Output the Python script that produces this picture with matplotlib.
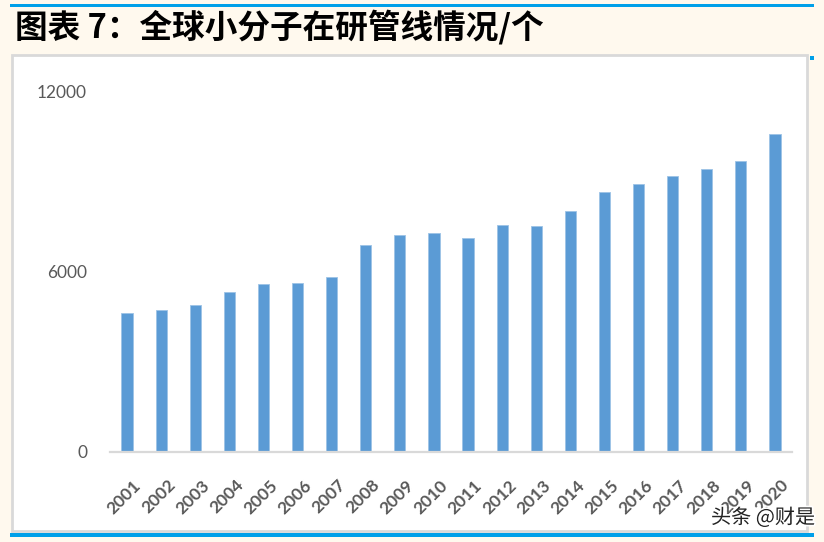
import numpy as np
import matplotlib.pyplot as plt
from matplotlib.patches import Rectangle
from matplotlib.transforms import ScaledTranslation
import matplotlib.patheffects as pe

years = [str(y) for y in range(2001, 2021)]
counts = [4650, 4750, 4900, 5350, 5600, 5630, 5850, 6900, 7220, 7300,
          7120, 7570, 7540, 8040, 8670, 8930, 9200, 9450, 9700, 10590]
yticks = [0, 6000, 12000]

W, H = 824, 542
bg = "#FFF9EE"
blue_line = "#00A0E9"

fig = plt.figure(figsize=(W / 100, H / 100), dpi=100, facecolor=bg)


def px_rect(x0, y0, x1, y1, **kw):
    # pixel coords from top-left
    r = Rectangle((x0 / W, 1 - y1 / H), (x1 - x0) / W, (y1 - y0) / H,
                  transform=fig.transFigure, zorder=-5, **kw)
    fig.add_artist(r)
    return r


# blue rules and chart frame
px_rect(10, 4, 814, 7, facecolor=blue_line, edgecolor="none")
px_rect(12, 55, 807, 531, facecolor="white", edgecolor="#D9D9D9", linewidth=2)
px_rect(810, 56, 814, 60, facecolor=blue_line, edgecolor="none")
px_rect(10, 533, 814, 537, facecolor=blue_line, edgecolor="none")

fig.text(15 / W, 1 - 27 / H, "图表 7：全球小分子在研管线情况/个",
         family=["Noto Sans CJK SC", "DejaVu Sans"], fontsize=23.5,
         fontweight="heavy", color="black", ha="left", va="center")

# axes: x 110..792, y 92..452 px
ax = fig.add_axes([110 / W, 1 - 452 / H, (792 - 110) / W, (452 - 92) / H])
ax.set_zorder(2)
ax.set_facecolor("none")
x = np.arange(len(years))
ax.bar(x, counts, width=0.33, color="#5B9BD5", edgecolor="#9DC3E6",
       linewidth=0.6, zorder=2)
ax.set_xlim(-0.5, len(years) - 0.5)
ax.set_ylim(0, 12000)

for s in ["top", "right", "left"]:
    ax.spines[s].set_visible(False)
ax.spines["bottom"].set_color("#D9D9D9")
ax.spines["bottom"].set_linewidth(1.6)
ax.spines["bottom"].set_zorder(3)

ax.set_yticks(yticks)
ax.set_yticklabels([str(v) for v in yticks], family="Lato", fontsize=12.5,
                   color="#595959")
ax.tick_params(axis="y", length=0, pad=16.5)

ax.set_xticks(x)
ax.set_xticklabels(years, rotation=45, ha="right", va="top",
                   rotation_mode="anchor", family="Lato", fontsize=12.5,
                   fontweight="bold", color="#595959")
ax.tick_params(axis="x", length=0, pad=18)
shift = ScaledTranslation(6 / 100, 0, fig.dpi_scale_trans)
for lab in ax.get_xticklabels():
    lab.set_transform(lab.get_transform() + shift)

fig.text(815 / W, 1 - 518 / H, "头条 @财是",
         family=["Noto Sans CJK SC", "DejaVu Sans"], fontsize=14.5,
         color="#222222", ha="right", va="center", zorder=5,
         path_effects=[pe.withStroke(linewidth=2.5, foreground="white")])

fig.savefig("out.png", dpi=100, facecolor=bg)
